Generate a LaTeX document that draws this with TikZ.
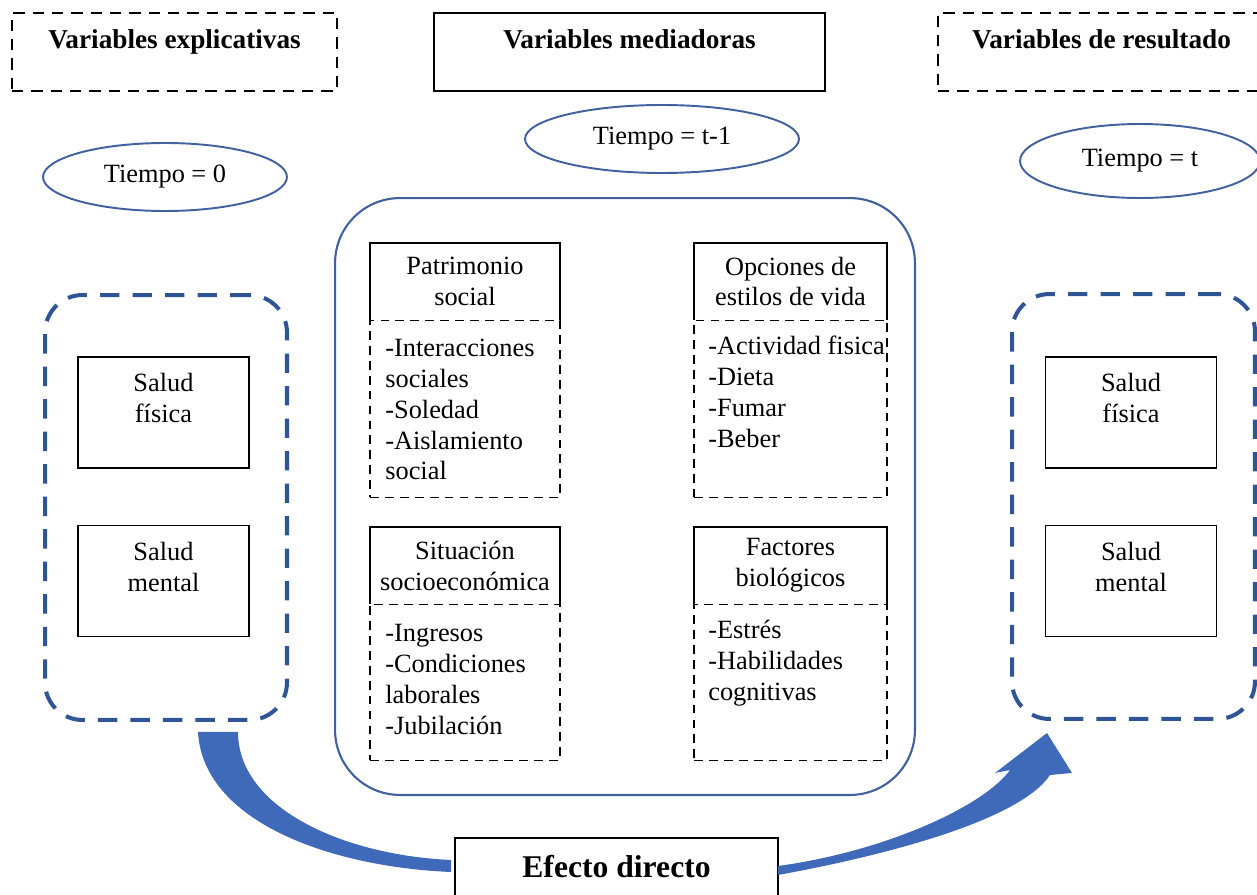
\documentclass[tikz,border=0pt]{standalone}
\usepackage{fontspec}
\setmainfont{Liberation Serif}
\usetikzlibrary{positioning,calc,shapes.geometric}

\definecolor{grpblue}{RGB}{47,85,151}
\definecolor{lineblue}{RGB}{65,97,158}
\definecolor{arrowblue}{RGB}{63,106,186}

\tikzset{
    txt/.style={font=\fontsize{15}{17.6}\selectfont, inner sep=0pt},
    ttl/.style={font=\fontsize{15.5}{18}\selectfont\bfseries},
    topbox/.style={ttl, draw, line width=1.1pt, inner xsep=0pt, inner ysep=0pt,
        text height=0.72cm, text depth=0.84cm, minimum width=#1},
    topdash/.style={dash pattern=on 6.5pt off 4.5pt},
    tiempo/.style={txt, ellipse, draw=lineblue, line width=1.1pt},
    grp/.style={draw=grpblue, line width=2.3pt, dash pattern=on 11pt off 7.5pt,
        rounded corners=0.75cm, minimum width=#1, minimum height=8.5cm},
    saludbox/.style={draw, line width=1pt, minimum width=3.42cm, minimum height=2.22cm},
    hdr/.style={txt, align=center, minimum width=#1, minimum height=1.54cm},
    lst/.style={draw, line width=0.9pt, dash pattern=on 5pt off 3.5pt,
        minimum width=#1, inner sep=0pt, outer sep=0pt},
}

\begin{document}
\begin{tikzpicture}[x=0.02cm, y=-0.02cm]
        \useasboundingbox (0,0) rectangle (1257,895);

        % Column titles
        \node[topbox=6.5cm, topdash] (ttlexp) at (174.5,52) {Variables explicativas};
        \node[topbox=7.82cm] (ttlmed) at (629.5,52) {Variables mediadoras};
        \node[topbox=6.54cm, topdash] (ttlres) at (1101.5,52) {Variables de resultado};

        % Time ellipses
        \node[tiempo, minimum width=4.88cm, minimum height=1.36cm] (t0) at (165,177) {Tiempo = 0};
        \node[tiempo, minimum width=5.48cm, minimum height=1.36cm] (t1) at (662,139) {Tiempo = t-1};
        \node[tiempo, minimum width=4.8cm, minimum height=1.48cm] (tt) at (1140,161) {Tiempo = t};

        % Explanatory variables
        \node[grp=4.84cm] (lgrp) at (166,507.5) {};
        \node[saludbox] (lfis) at (163.5,412.5) {};
        \node[txt, align=center] (lfist) at (163.5,398) {Salud\\física};
        \node[saludbox] (lmen) at (163.5,581) {};
        \node[txt, align=center] (lment) at (163.5,567) {Salud\\mental};

        % Outcome variables
        \node[grp=4.86cm] (rgrp) at (1133.5,506.5) {};
        \node[saludbox] (rfis) at (1131,412.5) {};
        \node[txt, align=center] (rfist) at (1131,398) {Salud\\física};
        \node[saludbox] (rmen) at (1131,581) {};
        \node[txt, align=center] (rment) at (1131,567) {Salud\\mental};

        % Mediating variables
        \node[draw=lineblue, line width=1.2pt, rounded corners=1.3cm,
            minimum width=11.6cm, minimum height=11.94cm] (medbox) at (625,496.5) {};

        \node[hdr=3.8cm] (pat) at (465,281.5) {Patrimonio\\social};
        \draw[line width=1pt] (pat.south west) |- (pat.north east) -- (pat.south east);
        \node[lst=3.8cm, minimum height=3.54cm, below=0pt of pat] (patb) {};
        \node[txt, align=left, anchor=west] (patt) at (385,409.5)
            {-Interacciones\\sociales\\-Soledad\\-Aislamiento\\social};

        \node[hdr=3.86cm] (opc) at (790.5,281.5) {Opciones de\\estilos de vida};
        \draw[line width=1pt] (opc.south west) |- (opc.north east) -- (opc.south east);
        \node[lst=3.86cm, minimum height=3.54cm, below=0pt of opc] (opcb) {};
        \node[txt, align=left, anchor=west] (opct) at (708,391.5)
            {-Actividad fisica\\-Dieta\\-Fumar\\-Beber};

        \node[hdr=3.8cm] (sit) at (465,565.5) {Situación\\socioeconómica};
        \draw[line width=1pt] (sit.south west) |- (sit.north east) -- (sit.south east);
        \node[lst=3.8cm, minimum height=3.12cm, below=0pt of sit] (sitb) {};
        \node[txt, align=left, anchor=west] (sitt) at (385,679.5)
            {-Ingresos\\-Condiciones\\laborales\\-Jubilación};

        \node[hdr=3.86cm] (fac) at (790.5,565.5) {Factores\\biológicos};
        \draw[line width=1pt] (fac.south west) |- (fac.north east) -- (fac.south east);
        \node[lst=3.86cm, minimum height=3.12cm, below=0pt of fac] (facb) {};
        \node[txt, align=left, anchor=west] (fact) at (708,663.5)
            {-Estrés\\-Habilidades\\cognitivas};

        % Direct effect
        \node[draw, line width=1.1pt, minimum width=6.46cm, minimum height=1.16cm,
            font=\fontsize{18}{21}\selectfont\bfseries] (efecto) at (616.5,867) {Efecto directo};

        % Curved arrows through the direct effect
        \fill[arrowblue] ($(lgrp.south)+(32,10)$) .. controls +(5,90) and +(-120,-5) .. ($(efecto.west)+(-3,5)$)
            -- ($(efecto.west)+(-3,-7)$) .. controls +(-110,-5) and +(0,75) .. ($(lgrp.south)+(72,10)$) -- cycle;
        \fill[arrowblue] ($(efecto.east)+(-1,8)$) .. controls +(110,-20) and +(-30,45) .. ($(rgrp.south)+(-83.5,54)$)
            -- ($(rgrp.south)+(-61.5,52)$) -- ($(rgrp.south)+(-86.5,12)$) -- ($(rgrp.south)+(-138.5,52)$)
            -- ($(rgrp.south)+(-123.5,49)$) .. controls +(-25,35) and +(110,-15) .. ($(efecto.east)+(-1,-1)$) -- cycle;
    \end{tikzpicture}
\end{document}
